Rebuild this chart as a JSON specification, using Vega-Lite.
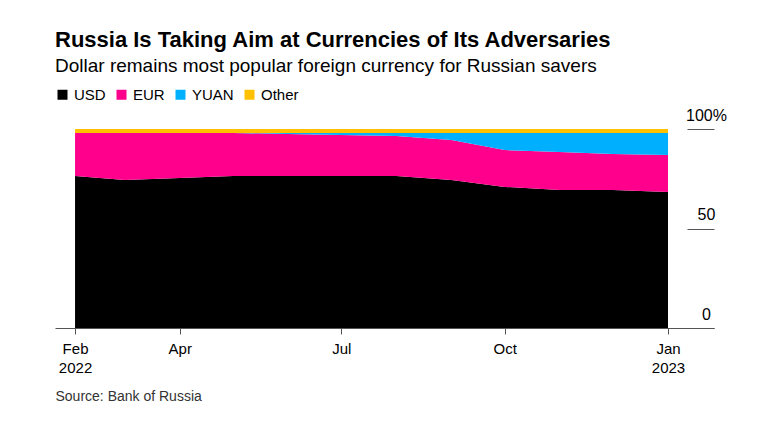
{
  "$schema": "https://vega.github.io/schema/vega-lite/v6.json",
  "autosize": "none",
  "width": 659,
  "height": 199,
  "padding": {"left": 55, "top": 129, "right": 50, "bottom": 106},
  "background": "white",
  "title": {
    "text": "Russia Is Taking Aim at Currencies of Its Adversaries",
    "subtitle": "Dollar remains most popular foreign currency for Russian savers",
    "anchor": "start",
    "frame": "group",
    "font": "Liberation Sans",
    "fontSize": 22,
    "fontWeight": "bold",
    "color": "#000000",
    "subtitleFont": "Liberation Sans",
    "subtitleFontSize": 19,
    "subtitleColor": "#000000",
    "subtitlePadding": 5,
    "offset": 10
  },
  "data": {
    "values": [
      {"date": "2022-02-01", "cur": "USD", "share": 76.4},
      {"date": "2022-02-01", "cur": "EUR", "share": 21.6},
      {"date": "2022-02-01", "cur": "YUAN", "share": 0},
      {"date": "2022-02-01", "cur": "Other", "share": 2},
      {"date": "2022-03-01", "cur": "USD", "share": 74.4},
      {"date": "2022-03-01", "cur": "EUR", "share": 23.6},
      {"date": "2022-03-01", "cur": "YUAN", "share": 0},
      {"date": "2022-03-01", "cur": "Other", "share": 2},
      {"date": "2022-04-01", "cur": "USD", "share": 75.4},
      {"date": "2022-04-01", "cur": "EUR", "share": 22.6},
      {"date": "2022-04-01", "cur": "YUAN", "share": 0},
      {"date": "2022-04-01", "cur": "Other", "share": 2},
      {"date": "2022-05-01", "cur": "USD", "share": 76.4},
      {"date": "2022-05-01", "cur": "EUR", "share": 21.6},
      {"date": "2022-05-01", "cur": "YUAN", "share": 0},
      {"date": "2022-05-01", "cur": "Other", "share": 2},
      {"date": "2022-06-01", "cur": "USD", "share": 76.4},
      {"date": "2022-06-01", "cur": "EUR", "share": 21.1},
      {"date": "2022-06-01", "cur": "YUAN", "share": 0.5},
      {"date": "2022-06-01", "cur": "Other", "share": 2},
      {"date": "2022-07-01", "cur": "USD", "share": 76.4},
      {"date": "2022-07-01", "cur": "EUR", "share": 20.6},
      {"date": "2022-07-01", "cur": "YUAN", "share": 1.0},
      {"date": "2022-07-01", "cur": "Other", "share": 2},
      {"date": "2022-08-01", "cur": "USD", "share": 76.4},
      {"date": "2022-08-01", "cur": "EUR", "share": 20.1},
      {"date": "2022-08-01", "cur": "YUAN", "share": 1.5},
      {"date": "2022-08-01", "cur": "Other", "share": 2},
      {"date": "2022-09-01", "cur": "USD", "share": 74.4},
      {"date": "2022-09-01", "cur": "EUR", "share": 20.1},
      {"date": "2022-09-01", "cur": "YUAN", "share": 3.5},
      {"date": "2022-09-01", "cur": "Other", "share": 2},
      {"date": "2022-10-01", "cur": "USD", "share": 70.9},
      {"date": "2022-10-01", "cur": "EUR", "share": 18.5},
      {"date": "2022-10-01", "cur": "YUAN", "share": 8.6},
      {"date": "2022-10-01", "cur": "Other", "share": 2},
      {"date": "2022-11-01", "cur": "USD", "share": 69.3},
      {"date": "2022-11-01", "cur": "EUR", "share": 19.1},
      {"date": "2022-11-01", "cur": "YUAN", "share": 9.6},
      {"date": "2022-11-01", "cur": "Other", "share": 2},
      {"date": "2022-12-01", "cur": "USD", "share": 69.3},
      {"date": "2022-12-01", "cur": "EUR", "share": 18.1},
      {"date": "2022-12-01", "cur": "YUAN", "share": 10.6},
      {"date": "2022-12-01", "cur": "Other", "share": 2},
      {"date": "2023-01-01", "cur": "USD", "share": 68.3},
      {"date": "2023-01-01", "cur": "EUR", "share": 18.6},
      {"date": "2023-01-01", "cur": "YUAN", "share": 11.1},
      {"date": "2023-01-01", "cur": "Other", "share": 2}
    ]
  },
  "transform": [
    {"calculate": "indexof(['USD','EUR','YUAN','Other'], datum.cur)", "as": "ord"}
  ],
  "mark": {"type": "area", "interpolate": "linear"},
  "encoding": {
    "x": {
      "field": "date",
      "type": "temporal",
      "scale": {
        "type": "utc",
        "domain": [
          {"year": 2022, "month": 1, "date": 20, "hours": 17, "utc": true},
          {"year": 2023, "month": 1, "date": 26, "hours": 22, "utc": true}
        ]
      },
      "axis": {
        "values": [
          {"year": 2022, "month": 2, "date": 1, "utc": true},
          {"year": 2022, "month": 4, "date": 1, "utc": true},
          {"year": 2022, "month": 7, "date": 1, "utc": true},
          {"year": 2022, "month": 10, "date": 1, "utc": true},
          {"year": 2023, "month": 1, "date": 1, "utc": true}
        ],
        "labelExpr": "utcmonth(datum.value) == 1 ? ['Feb', '2022'] : utcmonth(datum.value) == 0 ? ['Jan', '2023'] : utcFormat(datum.value, '%b')",
        "labelFont": "Liberation Sans",
        "labelFontSize": 15,
        "labelColor": "#000000",
        "labelLineHeight": 19,
        "labelPadding": 7,
        "labelFlush": false,
        "tickSize": 6,
        "tickColor": "#555555",
        "domainColor": "#555555",
        "grid": false,
        "title": "Source: Bank of Russia",
        "titleAnchor": "start",
        "titleAlign": "left",
        "titleFont": "Liberation Sans",
        "titleFontSize": 14,
        "titleFontWeight": "normal",
        "titleColor": "#333333",
        "titlePadding": 14
      }
    },
    "y": {
      "field": "share",
      "type": "quantitative",
      "stack": "zero",
      "scale": {"domain": [0, 100]},
      "axis": {
        "orient": "right",
        "values": [0, 50, 100],
        "labelExpr": "datum.value == 100 ? '100%' : datum.label",
        "domain": false,
        "grid": false,
        "tickSize": -27,
        "tickColor": "#555555",
        "labelPadding": 19,
        "labelAlign": "center",
        "labelBaseline": "alphabetic",
        "labelOffset": -9,
        "labelFont": "Liberation Sans",
        "labelFontSize": 16,
        "labelColor": "#000000",
        "title": null
      }
    },
    "color": {
      "field": "cur",
      "type": "nominal",
      "scale": {
        "domain": ["USD", "EUR", "YUAN", "Other"],
        "range": ["#000000", "#ff008c", "#00b0ff", "#ffc000"]
      },
      "legend": {
        "orient": "none",
        "direction": "horizontal",
        "legendX": 0,
        "legendY": -42,
        "title": null,
        "symbolType": "square",
        "symbolSize": 100,
        "symbolStrokeWidth": 0,
        "labelFont": "Liberation Sans",
        "labelFontSize": 15,
        "labelColor": "#000000",
        "labelOffset": 4,
        "columnPadding": 8,
        "padding": 0
      }
    },
    "order": {"field": "ord", "type": "quantitative"}
  },
  "config": {
    "view": {"stroke": null}
  }
}
